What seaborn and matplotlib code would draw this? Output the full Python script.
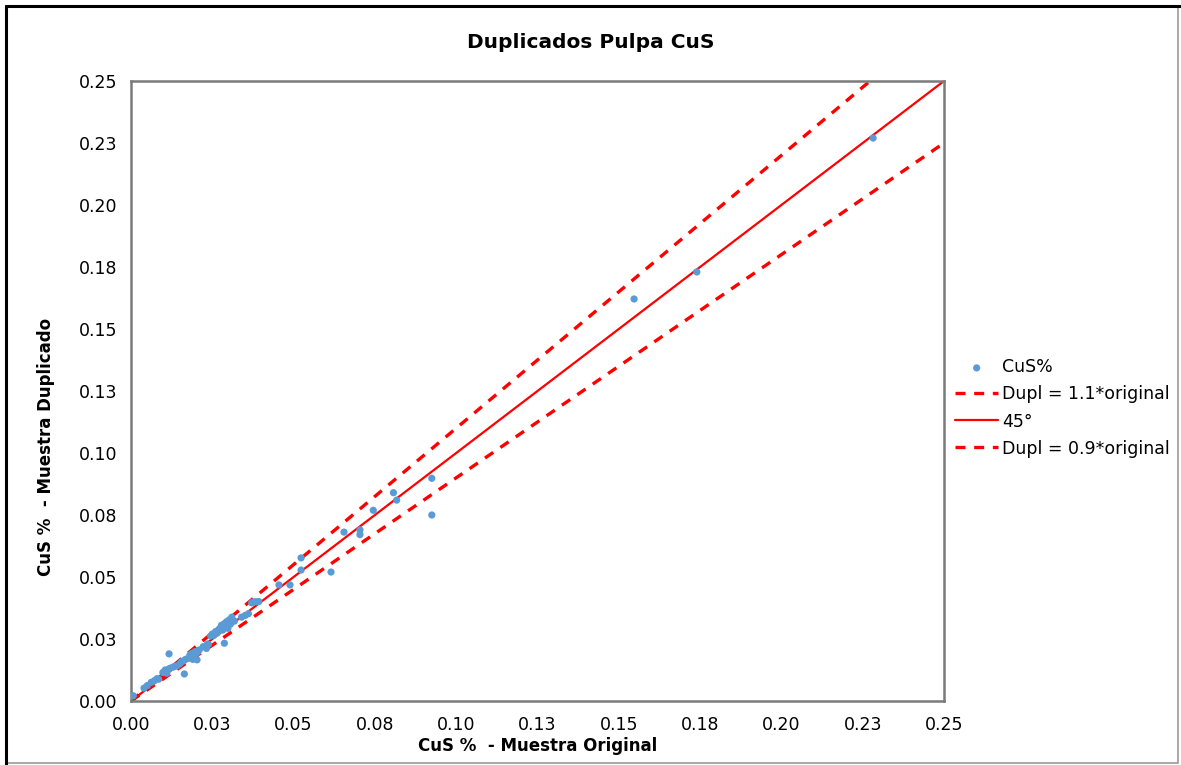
import matplotlib
matplotlib.use("Agg")
import matplotlib.pyplot as plt
import seaborn as sns
import pandas as pd
from matplotlib.patches import Rectangle

# CuS % - original sample vs duplicate
original = [
    0.0007, 0.0040, 0.0050, 0.0062, 0.0072, 0.0080, 0.0085,
    0.0098, 0.0105, 0.0110, 0.0115, 0.0120, 0.0128, 0.0135, 0.0142, 0.0150,
    0.0155, 0.0162, 0.0168, 0.0176, 0.0181, 0.0187, 0.0192, 0.0197, 0.0204,
    0.0210, 0.0190, 0.0203, 0.0117, 0.0164,
    0.0222, 0.0232, 0.0238, 0.0245, 0.0250, 0.0255, 0.0260, 0.0265, 0.0270,
    0.0275, 0.0278, 0.0282, 0.0287, 0.0290, 0.0294, 0.0298, 0.0302, 0.0306,
    0.0310, 0.0318, 0.0287, 0.0235,
    0.0340, 0.0351, 0.0361, 0.0371, 0.0378, 0.0386, 0.0393,
    0.0455, 0.0489, 0.0523, 0.0523, 0.0615, 0.0655, 0.0704, 0.0704,
    0.0745, 0.0807, 0.0817, 0.0925, 0.0925, 0.1547, 0.1740, 0.2282,
]
duplicate = [
    0.0021, 0.0052, 0.0062, 0.0075, 0.0082, 0.0090, 0.0088,
    0.0115, 0.0125, 0.0112, 0.0128, 0.0132, 0.0136, 0.0140, 0.0142, 0.0150,
    0.0158, 0.0162, 0.0168, 0.0172, 0.0185, 0.0192, 0.0180, 0.0199, 0.0195,
    0.0206, 0.0168, 0.0166, 0.0190, 0.0109,
    0.0219, 0.0212, 0.0228, 0.0262, 0.0270, 0.0265, 0.0280, 0.0274, 0.0288,
    0.0295, 0.0305, 0.0286, 0.0312, 0.0300, 0.0320, 0.0293, 0.0327, 0.0310,
    0.0338, 0.0322, 0.0233, 0.0230,
    0.0338, 0.0345, 0.0352, 0.0396, 0.0400, 0.0400, 0.0401,
    0.0468, 0.0468, 0.0577, 0.0528, 0.0520, 0.0681, 0.0690, 0.0671,
    0.0769, 0.0840, 0.0810, 0.0898, 0.0750, 0.1621, 0.1730, 0.2270,
]

# reference lines
line_x = [0.0, 0.25]
factors = [1.1, 1.0, 0.9]
line_labels = ["Dupl = 1.1*original", "45°", "Dupl = 0.9*original"]

ticks = [0.0, 0.025, 0.05, 0.075, 0.1, 0.125, 0.15, 0.175, 0.2, 0.225, 0.25]
tick_labels = ["0.00", "0.03", "0.05", "0.08", "0.10", "0.13",
               "0.15", "0.18", "0.20", "0.23", "0.25"]

sns.set_theme(style="white")
# the reference text is a bit wide, DejaVu Sans gets closer than Arial here
plt.rcParams["font.family"] = ["DejaVu Sans"]
plt.rcParams["text.color"] = "black"
plt.rcParams["axes.labelcolor"] = "black"

fig = plt.figure(figsize=(11.81, 7.65), dpi=100)
ax = fig.add_axes([131 / 1181, 1 - 701 / 765, 813 / 1181, 620 / 765])

df = pd.DataFrame({"original": original, "duplicate": duplicate})
sns.scatterplot(data=df, x="original", y="duplicate", ax=ax, color="#5B9BD5",
                s=27, edgecolor="none", label="CuS%", zorder=3)

for f, lab in zip(factors, line_labels):
    ys = [v * f for v in line_x]
    if f == 1.0:
        sns.lineplot(x=line_x, y=ys, ax=ax, color="#FF0000", linewidth=1.6,
                     label=lab, zorder=2)
    else:
        sns.lineplot(x=line_x, y=ys, ax=ax, color="#FF0000", linewidth=2.4,
                     linestyle=(0, (3, 2.6)), label=lab, zorder=2)

ax.set_xlim(0, 0.25)
ax.set_ylim(0, 0.25)
ax.set_xticks(ticks)
ax.set_xticklabels(tick_labels)
ax.set_yticks(ticks)
ax.set_yticklabels(tick_labels)
ax.tick_params(axis="both", length=0, labelsize=12.5, colors="black")
ax.tick_params(axis="x", pad=11)
ax.tick_params(axis="y", pad=10)

for sp in ax.spines.values():
    sp.set_color("#7a7a7a")
    sp.set_linewidth(1.8)

ax.set_xlabel("CuS %  - Muestra Original", fontsize=12, fontweight="bold", labelpad=2)
ax.set_ylabel("CuS %  - Muestra Duplicado", fontsize=12, fontweight="bold")
ax.yaxis.set_label_coords(-0.093, 0.41)
fig.suptitle("Duplicados Pulpa CuS", fontsize=14.5, fontweight="bold", y=1 - 42 / 765,
             va="center")

ax.legend(loc="center left", bbox_to_anchor=(948 / 1181, 1 - 408 / 765),
          bbox_transform=fig.transFigure, frameon=False, fontsize=12.5,
          handlelength=2.5, handletextpad=0.2, labelspacing=0.52, borderaxespad=0)

# outer frame of the pasted picture
fig.patches.append(Rectangle((6 / 1181, 2 / 765), 1172 / 1181, 757 / 765,
                             transform=fig.transFigure, fill=False,
                             edgecolor="#9a9a9a", linewidth=1.2))
fig.lines.append(plt.Line2D([6 / 1181, 6 / 1181], [0, 1 - 6 / 765],
                            transform=fig.transFigure, color="black", linewidth=2.2))
fig.lines.append(plt.Line2D([6 / 1181, 1], [1 - 6 / 765, 1 - 6 / 765],
                            transform=fig.transFigure, color="black", linewidth=2.2))

fig.savefig("out.png", dpi=100)
